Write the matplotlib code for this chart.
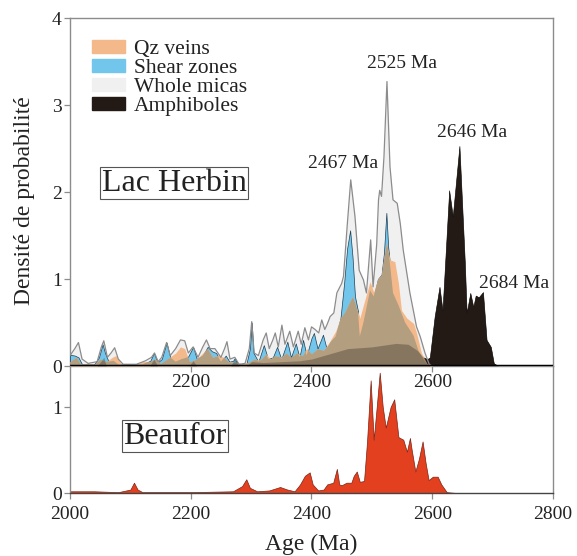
import matplotlib
matplotlib.use("Agg")
import matplotlib.pyplot as plt
from matplotlib.patches import Patch

plt.rcParams['font.family'] = ['Liberation Serif', 'DejaVu Serif']

# --- Lac Herbin (top panel), vertices: (age Ma, density)
micas_age = [2000, 2008, 2014, 2020, 2030, 2045, 2052, 2056, 2062, 2068, 2074, 2080, 2088, 2110,
             2125, 2135, 2140, 2146, 2152, 2160, 2166, 2175, 2183, 2190, 2196, 2204, 2212, 2220,
             2226, 2232, 2240, 2250, 2256, 2260, 2265, 2273, 2280, 2290, 2297, 2301, 2305, 2312,
             2320, 2325, 2330, 2336, 2340, 2345, 2351, 2356, 2364, 2370, 2378, 2383, 2389, 2395,
             2400, 2406, 2412, 2417, 2422, 2426, 2431, 2437, 2442, 2450, 2453, 2459, 2465, 2472,
             2479, 2486, 2491, 2498, 2502, 2508, 2511, 2513, 2516, 2520, 2525, 2530, 2535, 2542,
             2547, 2552, 2563, 2574, 2580, 2588, 2595, 2600]
micas_val = [0.12, 0.20, 0.27, 0.08, 0.03, 0.05, 0.22, 0.29, 0.10, 0.15, 0.21, 0.08, 0.02, 0.02,
             0.06, 0.10, 0.15, 0.05, 0.10, 0.27, 0.12, 0.20, 0.30, 0.29, 0.15, 0.22, 0.10, 0.22,
             0.30, 0.20, 0.20, 0.10, 0.20, 0.28, 0.08, 0.10, 0.02, 0.03, 0.20, 0.51, 0.15, 0.12,
             0.30, 0.38, 0.20, 0.30, 0.38, 0.22, 0.47, 0.25, 0.40, 0.22, 0.40, 0.25, 0.44, 0.30,
             0.45, 0.42, 0.38, 0.53, 0.42, 0.48, 0.57, 0.61, 0.84, 0.95, 1.03, 1.60, 2.14, 1.72,
             1.10, 0.99, 0.84, 1.45, 0.91, 1.40, 1.91, 2.02, 1.95, 2.40, 3.27, 2.29, 1.91, 1.87,
             1.64, 1.33, 0.84, 0.45, 0.34, 0.15, 0.02, 0.0]

shear_age = [2000, 2008, 2014, 2020, 2040, 2048, 2054, 2058, 2064, 2072, 2080, 2120, 2133, 2139,
             2145, 2152, 2160, 2166, 2175, 2185, 2195, 2204, 2210, 2220, 2228, 2235, 2242, 2250,
             2258, 2264, 2270, 2273, 2278, 2292, 2298, 2301, 2304, 2312, 2321, 2328, 2336, 2343,
             2350, 2360, 2366, 2374, 2380, 2386, 2392, 2400, 2404, 2410, 2419, 2425, 2432, 2440,
             2448, 2454, 2459, 2464, 2468, 2472, 2477, 2480, 2486, 2492, 2497, 2503, 2510, 2516,
             2520, 2524, 2527, 2535, 2544, 2555, 2569, 2577, 2588, 2595]
shear_val = [0.13, 0.12, 0.10, 0.02, 0.02, 0.10, 0.25, 0.15, 0.05, 0.06, 0.02, 0.02, 0.06, 0.15,
             0.04, 0.08, 0.27, 0.10, 0.05, 0.08, 0.10, 0.22, 0.08, 0.12, 0.22, 0.17, 0.15, 0.05,
             0.12, 0.05, 0.06, 0.09, 0.02, 0.02, 0.20, 0.50, 0.15, 0.05, 0.24, 0.08, 0.10, 0.22,
             0.08, 0.28, 0.10, 0.26, 0.10, 0.30, 0.12, 0.32, 0.38, 0.20, 0.36, 0.20, 0.28, 0.34,
             0.55, 0.95, 1.35, 1.56, 1.25, 0.80, 0.63, 0.34, 0.50, 0.70, 0.87, 0.80, 1.00, 1.05,
             1.30, 1.76, 1.37, 0.84, 0.70, 0.50, 0.35, 0.18, 0.05, 0.0]

qz_age = [2000, 2010, 2018, 2040, 2050, 2060, 2070, 2076, 2085, 2110, 2120, 2132, 2140, 2150,
          2165, 2175, 2183, 2190, 2198, 2210, 2220, 2228, 2236, 2245, 2255, 2262, 2272, 2285,
          2295, 2305, 2315, 2325, 2332, 2340, 2350, 2358, 2366, 2375, 2385, 2392, 2400, 2410,
          2420, 2430, 2440, 2448, 2455, 2462, 2468, 2473, 2480, 2488, 2497, 2503, 2510, 2516,
          2520, 2524, 2530, 2538, 2544, 2549, 2558, 2569, 2574, 2582, 2591, 2600]
qz_val = [0.05, 0.10, 0.02, 0.02, 0.08, 0.05, 0.10, 0.12, 0.02, 0.02, 0.05, 0.05, 0.08, 0.03,
          0.10, 0.15, 0.22, 0.20, 0.05, 0.08, 0.15, 0.20, 0.10, 0.12, 0.10, 0.05, 0.04, 0.03,
          0.04, 0.08, 0.07, 0.14, 0.08, 0.12, 0.10, 0.15, 0.10, 0.15, 0.12, 0.20, 0.14, 0.20,
          0.18, 0.28, 0.40, 0.55, 0.62, 0.72, 0.80, 0.70, 0.55, 0.75, 0.97, 0.85, 1.00, 1.05,
          1.25, 1.41, 1.22, 1.20, 0.95, 0.64, 0.55, 0.49, 0.38, 0.15, 0.03, 0.0]

amph_age = [2045, 2052, 2056, 2060, 2132, 2139, 2145, 2197, 2204, 2210, 2266, 2273, 2280, 2292,
            2301, 2320, 2350, 2380, 2400, 2430, 2460, 2500, 2540, 2560, 2575, 2585, 2592, 2596,
            2604, 2612, 2617, 2628, 2634, 2645, 2654, 2657, 2663, 2668, 2672, 2677, 2684, 2690,
            2697, 2702, 2710]
amph_val = [0.0, 0.06, 0.10, 0.0, 0.0, 0.08, 0.0, 0.0, 0.06, 0.0, 0.0, 0.08, 0.0, 0.0,
            0.05, 0.04, 0.05, 0.06, 0.08, 0.14, 0.20, 0.22, 0.26, 0.25, 0.18, 0.10, 0.08, 0.10,
            0.57, 0.91, 0.64, 2.02, 1.72, 2.53, 1.18, 0.61, 0.84, 0.68, 0.81, 0.79, 0.85, 0.30,
            0.22, 0.03, 0.0]

# --- Beaufor (bottom panel)
beaufor_age = [2000, 2040, 2080, 2100, 2106, 2112, 2120, 2200, 2270, 2285, 2292, 2298, 2310, 2330,
               2348, 2360, 2372, 2381, 2389, 2397, 2402, 2411, 2420, 2426, 2436, 2442, 2446, 2450,
               2458, 2466, 2470, 2475, 2480, 2487, 2492, 2498, 2503, 2508, 2513, 2518, 2523, 2531,
               2537, 2544, 2552, 2558, 2563, 2566, 2572, 2578, 2584, 2589, 2594, 2601, 2609, 2615,
               2624, 2640]
beaufor_val = [0.02, 0.02, 0.01, 0.04, 0.12, 0.04, 0.01, 0.01, 0.02, 0.08, 0.16, 0.06, 0.02, 0.03,
               0.07, 0.04, 0.02, 0.10, 0.20, 0.24, 0.10, 0.03, 0.04, 0.10, 0.12, 0.28, 0.10, 0.09,
               0.12, 0.12, 0.20, 0.25, 0.13, 0.14, 0.60, 1.31, 0.62, 1.00, 1.40, 1.00, 0.76, 1.00,
               1.09, 0.65, 0.62, 0.48, 0.64, 0.50, 0.25, 0.40, 0.60, 0.35, 0.15, 0.19, 0.19, 0.10,
               0.01, 0.0]

peak_labels = ['2467 Ma', '2525 Ma', '2646 Ma', '2684 Ma']
peak_x = [2452, 2550, 2666, 2735]
peak_y = [2.33, 3.48, 2.68, 0.95]

series_names = ['Qz veins', 'Shear zones', 'Whole micas', 'Amphiboles']
c_qz, c_sz, c_mica, c_amph = '#f4b98a', '#72c6ec', '#f0f0f0', '#231a15'
c_tan = '#b39e80'
grey = '#8c8c8c'

fig = plt.figure(figsize=(5.77, 5.56), dpi=100)
ax1 = fig.add_axes([0.1213, 0.3417, 0.8371, 0.6259])
ax2 = fig.add_axes([0.1213, 0.1133, 0.8371, 0.2284])
ax2.patch.set_alpha(0)

# top panel
ax1.fill_between(micas_age, micas_val, color=c_mica, lw=0, zorder=1)
ax1.fill_between(amph_age, amph_val, color=c_amph, lw=0.4, edgecolor='black', zorder=2)
sz = ax1.fill_between(shear_age, shear_val, color=c_sz, lw=0.5, edgecolor='#1d3f55', zorder=3)
ax1.fill_between(qz_age, qz_val, color=c_qz, lw=0, zorder=4)
tan = ax1.fill_between(qz_age, qz_val, color=c_tan, lw=0, zorder=5)
tan.set_clip_path(sz.get_paths()[0], ax1.transData)
ax1.fill_between(amph_age, amph_val, color=c_amph, alpha=0.3, lw=0, zorder=6)
ax1.plot(micas_age, micas_val, color=grey, lw=0.9, zorder=7)
ax1.axhline(0, color='black', lw=2.5, zorder=8)

for lab, x, y in zip(peak_labels, peak_x, peak_y):
    ax1.text(x, y, lab, ha='center', va='center', fontsize=14, color='#222222')

ax1.text(2173, 2.1, 'Lac Herbin', ha='center', va='center', fontsize=23, color='#222222',
         bbox=dict(boxstyle='square,pad=0.05', fc='white', ec='#555555', lw=0.8))

handles = [Patch(color=c) for c in (c_qz, c_sz, c_mica, c_amph)]
ax1.legend(handles, series_names, loc='upper left', bbox_to_anchor=(0.045, 0.937),
           frameon=False, fontsize=15.5, borderpad=0, borderaxespad=0, labelspacing=0.0,
           handlelength=1.55, handleheight=0.55, handletextpad=0.4, labelcolor='#222222')

ax1.set_xlim(2000, 2800)
ax1.set_ylim(0, 4)
ax1.set_xticks([2200, 2400, 2600])
ax1.set_yticks([0, 1, 2, 3, 4])
ax1.set_ylabel('Densité de probabilité', fontsize=17, color='#222222')
ax1.yaxis.set_label_coords(-0.072, 0.475)

# bottom panel
ax2.fill_between(beaufor_age, beaufor_val, color='#e2401f', lw=0.5, edgecolor='#7a2414')
ax2.text(2174, 0.66, 'Beaufor', ha='center', va='center', fontsize=23, color='#222222',
         bbox=dict(boxstyle='square,pad=0.05', fc='white', ec='#555555', lw=0.8))
ax2.set_xlim(2000, 2800)
ax2.set_ylim(0, 1.477)
ax2.set_xticks([2000, 2200, 2400, 2600, 2800])
ax2.set_yticks([0, 1])
ax2.set_xlabel('Age (Ma)', fontsize=17, color='#222222', labelpad=8)
ax2.spines['top'].set_visible(False)

for ax in (ax1, ax2):
    for s in ax.spines.values():
        s.set_color(grey)
        s.set_linewidth(1.0)
    ax.tick_params(direction='out', length=4, width=0.9, color=grey,
                   labelsize=14, labelcolor='#222222', pad=2)
ax2.tick_params(axis='x', pad=5)
ax2.spines['bottom'].set_color('#444444')

fig.savefig('out.png', dpi=100)
